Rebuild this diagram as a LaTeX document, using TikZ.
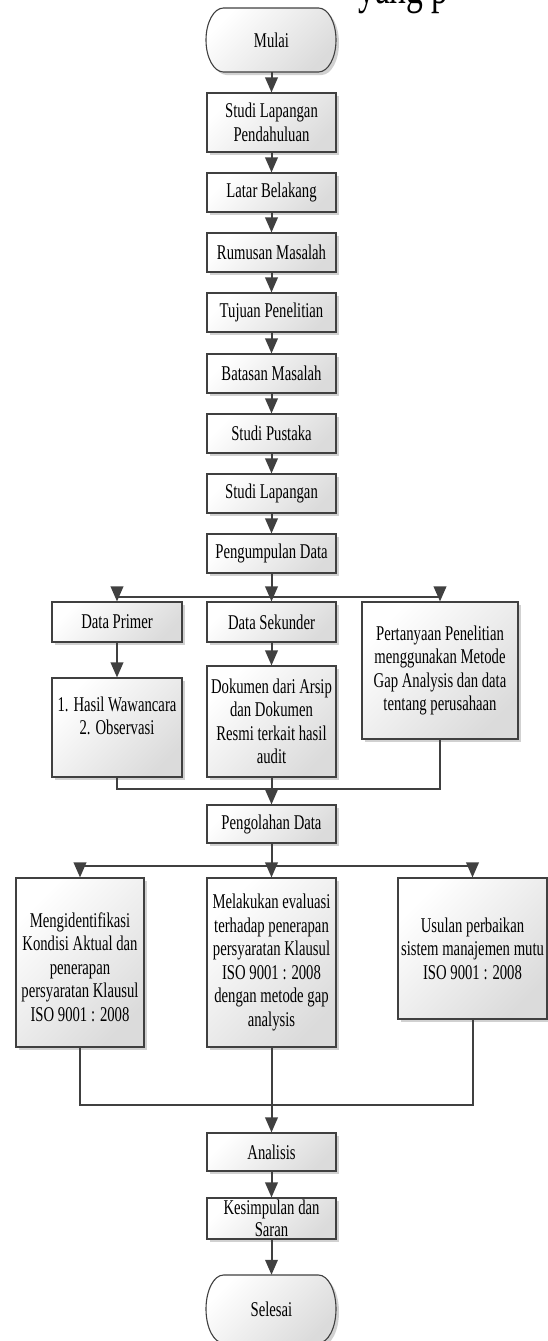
\documentclass[tikz,border=0pt]{standalone}
\usepackage{fontspec}
\setmainfont{Liberation Serif}[FakeStretch = 0.7]
\usetikzlibrary{arrows.meta, shadows}

\definecolor{garis}{HTML}{404040}

\tikzset{
    bentuk/.style = {draw = garis, line width = 1.1pt, top color = white, bottom color = black!14, shading angle = 45,
        drop shadow = {shadow xshift = 3pt, shadow yshift = -3pt, fill = black, opacity = 0.18}},
    kotak/.style = {bentuk, align = center, inner sep = 0pt, minimum width = 129pt, minimum height = 39pt,
        font = \fontsize{21}{23.5}\selectfont},
    ujung/.style = {align = center, inner sep = 0pt, minimum width = 95pt, font = \fontsize{21}{23.5}\selectfont},
    alur/.style = {draw = garis, line width = 2pt, -{Triangle[length = 15pt, width = 12.5pt]}},
    garisan/.style = {draw = garis, line width = 2pt}
}

\begin{document}
\begin{tikzpicture}[x = 1pt, y = -1pt]
    \useasboundingbox (0, 0) rectangle (548, 1341);

    \node[anchor = base west, inner sep = 0pt, font = \fontsize{48}{50}\selectfont] (potongan) at (358, 4) {yang p};

    \path[bentuk] (223.5, 8) -- (318.5, 8) arc[start angle = 90, end angle = -90, x radius = 17.5pt, y radius = 32pt]
        -- (223.5, 72) arc[start angle = 270, end angle = 90, x radius = 17.5pt, y radius = 32pt] -- cycle;
    \node[ujung, minimum height = 64pt] (mulai) at (271.5, 40) {Mulai};

    \node[kotak, minimum height = 59pt] (pendahuluan) at (271.5, 122.5) {Studi Lapangan\\Pendahuluan};
    \node[kotak] (latar) at (271.5, 192.5) {Latar Belakang};
    \node[kotak] (rumusan) at (271.5, 252.5) {Rumusan Masalah};
    \node[kotak] (tujuan) at (271.5, 312.5) {Tujuan Penelitian};
    \node[kotak] (batasan) at (271.5, 373.5) {Batasan Masalah};
    \node[kotak] (pustaka) at (271.5, 433.5) {Studi Pustaka};
    \node[kotak] (lapangan) at (271.5, 493.5) {Studi Lapangan};
    \node[kotak] (kumpul) at (271.5, 553.5) {Pengumpulan Data};

    \node[kotak, minimum width = 130pt, minimum height = 40pt] (primer) at (117, 622) {Data Primer};
    \node[kotak, minimum height = 40pt] (sekunder) at (271.5, 622) {Data Sekunder};
    \node[kotak, minimum width = 156pt, minimum height = 137pt] (tanya) at (440, 670.5) {Pertanyaan Penelitian\\menggunakan Metode\\Gap Analysis dan data\\tentang perusahaan};
    \node[kotak, minimum width = 130pt, minimum height = 99pt] (hasil) at (117, 727.5) {1. Hasil Wawancara\\2. Observasi\\\mbox{}};
    \node[kotak, minimum height = 111pt] (dokumen) at (271.5, 721.5) {Dokumen dari Arsip\\dan Dokumen\\Resmi terkait hasil\\audit};

    \node[kotak, minimum height = 38pt] (olah) at (271.5, 824) {Pengolahan Data};

    \node[kotak, minimum width = 128pt, minimum height = 169pt] (identifikasi) at (80, 962.5) {\mbox{}\\Mengidentifikasi\\Kondisi Aktual dan\\penerapan\\persyaratan Klausul\\ISO 9001 : 2008};
    \node[kotak, minimum height = 169pt] (evaluasi) at (271.5, 962.5) {Melakukan evaluasi\\terhadap penerapan\\persyaratan Klausul\\ISO 9001 : 2008\\dengan metode gap\\analysis};
    \node[kotak, minimum width = 149pt, minimum height = 141pt] (usulan) at (472.5, 948.5) {Usulan perbaikan\\sistem manajemen mutu\\ISO 9001 : 2008};

    \node[kotak, minimum height = 38pt] (analisis) at (271.5, 1152) {Analisis};
    \node[kotak, minimum height = 41pt, font = \fontsize{21}{22}\selectfont] (kesimpulan) at (271.5, 1218.5) {Kesimpulan dan\\Saran};

    \path[bentuk] (223.5, 1275) -- (318.5, 1275) arc[start angle = 90, end angle = -90, x radius = 17.5pt, y radius = 34pt]
        -- (223.5, 1343) arc[start angle = 270, end angle = 90, x radius = 17.5pt, y radius = 34pt] -- cycle;
    \node[ujung, minimum height = 68pt] (selesai) at (271.5, 1309) {Selesai};

    \draw[alur] (mulai) -- (pendahuluan);
    \draw[alur] (pendahuluan) -- (latar);
    \draw[alur] (latar) -- (rumusan);
    \draw[alur] (rumusan) -- (tujuan);
    \draw[alur] (tujuan) -- (batasan);
    \draw[alur] (batasan) -- (pustaka);
    \draw[alur] (pustaka) -- (lapangan);
    \draw[alur] (lapangan) -- (kumpul);

    \coordinate (cabang1) at (271.5, 597);
    \draw[alur] (kumpul) -- (sekunder);
    \draw[alur] (cabang1) -| (primer);
    \draw[alur] (cabang1) -| (tanya);

    \draw[alur] (primer) -- (hasil);
    \draw[alur] (sekunder) -- (dokumen);

    \coordinate (gabung1) at (271.5, 789);
    \draw[garisan] (hasil) |- (gabung1);
    \draw[garisan] (tanya) |- (gabung1);
    \draw[alur] (dokumen) -- (olah);

    \coordinate (cabang2) at (271.5, 866);
    \draw[alur] (olah) -- (evaluasi);
    \draw[alur] (cabang2) -| (identifikasi);
    \draw[alur] (cabang2) -| (usulan);

    \coordinate (gabung2) at (271.5, 1105);
    \draw[garisan] (identifikasi) |- (gabung2);
    \draw[garisan] (usulan) |- (gabung2);
    \draw[alur] (evaluasi) -- (analisis);

    \draw[alur] (analisis) -- (kesimpulan);
    \draw[alur] (kesimpulan) -- (selesai);

  \end{tikzpicture}
\end{document}
